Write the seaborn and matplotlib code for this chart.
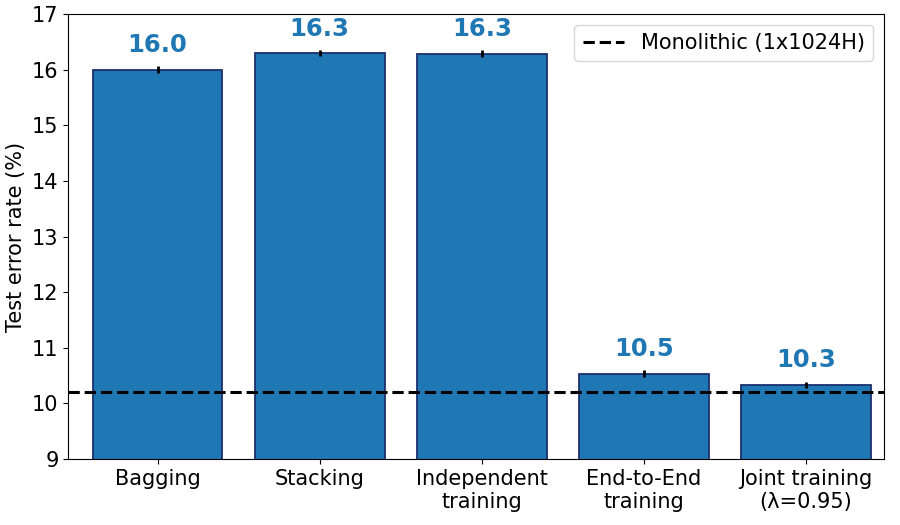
import numpy as np, pandas as pd
import matplotlib; matplotlib.use("Agg")
import matplotlib.pyplot as plt
import seaborn as sns

methods = ["Bagging", "Stacking", "Independent\ntraining", "End-to-End\ntraining", "Joint training\n(λ=0.95)"]
error_rate = [16.0, 16.3, 16.29, 10.53, 10.33]
error_sd = [0.06, 0.06, 0.06, 0.06, 0.06]
monolithic = 10.2

sns.set_style("ticks", {'text.color': 'black', 'axes.labelcolor': 'black', 'xtick.color': 'black',
                        'ytick.color': 'black', 'axes.edgecolor': 'black'})
plt.rcParams['font.family'] = ['DejaVu Sans']
df = pd.DataFrame({'method': methods, 'err': error_rate})

fig, ax = plt.subplots(figsize=(9, 5.25), dpi=100)
sns.barplot(data=df, x='method', y='err', ax=ax, color='#1f77b4', saturation=1,
            edgecolor='#1b2f6b', linewidth=1.3, width=0.8, errorbar=None)
ax.errorbar(np.arange(len(methods)), error_rate, yerr=error_sd, fmt='none', ecolor='black', elinewidth=2)
for i, v in enumerate(error_rate):
    ax.annotate(f"{v:.1f}", (i, v), xytext=(0, 9), textcoords='offset points', ha='center', va='bottom',
                color='#1f77b4', fontsize=17.5, fontweight='bold')
ax.axhline(monolithic, color='black', ls='--', lw=2.2, label='Monolithic (1x1024H)')
ax.set_ylim(9, 17); ax.set_xlim(-0.55, 4.48)
ax.set_xlabel(''); ax.set_ylabel('Test error rate (%)', fontsize=15)
ax.tick_params(labelsize=15)
ax.legend(loc='upper right', fontsize=15)
fig.subplots_adjust(left=0.076, right=0.982, top=0.973, bottom=0.126)
fig.savefig("out.png", dpi=100)
